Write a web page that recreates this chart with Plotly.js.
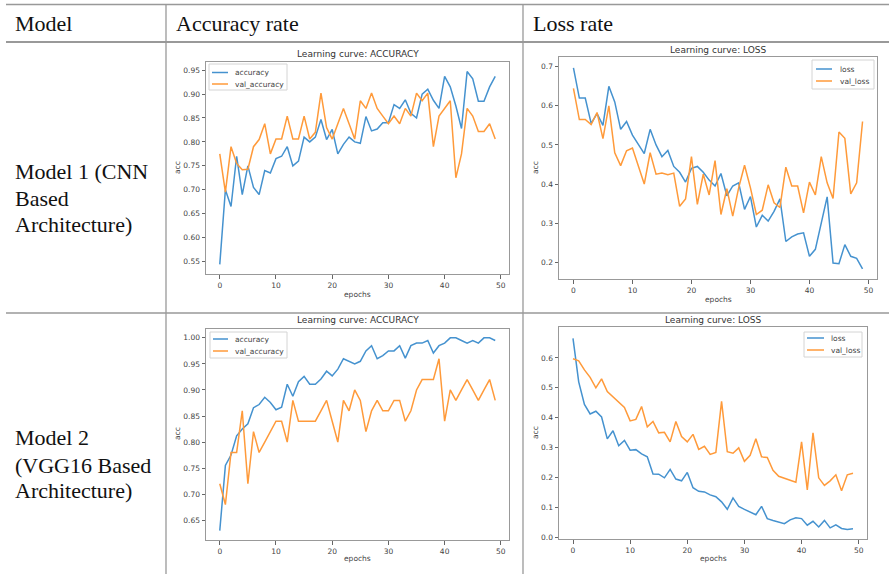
<!DOCTYPE html>
<html>
<head>
<meta charset="utf-8">
<script src="https://cdn.plot.ly/plotly-3.0.1.min.js"></script>
<style>
  html, body { margin: 0; padding: 0; background: #fff; }
  #chart { width: 889px; height: 574px; }
</style>
</head>
<body>
<div id="chart"></div>
<script>
// ---------------- data ----------------
const epochs = [0,1,2,3,4,5,6,7,8,9,10,11,12,13,14,15,16,17,18,19,20,21,22,23,24,25,26,27,28,29,30,31,32,33,34,35,36,37,38,39,40,41,42,43,44,45,46,47,48,49];

const m1Accuracy = [0.544,0.700,0.665,0.770,0.690,0.750,0.705,0.690,0.740,0.735,0.765,0.770,0.790,0.750,0.760,0.810,0.800,0.810,0.847,0.805,0.826,0.775,0.795,0.810,0.800,0.797,0.853,0.823,0.827,0.840,0.840,0.878,0.870,0.888,0.860,0.850,0.900,0.910,0.887,0.870,0.937,0.915,0.875,0.828,0.947,0.932,0.885,0.885,0.915,0.937];
const m1ValAccuracy = [0.775,0.695,0.790,0.755,0.742,0.743,0.790,0.805,0.838,0.775,0.806,0.806,0.854,0.806,0.806,0.854,0.806,0.820,0.902,0.830,0.806,0.838,0.870,0.838,0.806,0.886,0.870,0.902,0.870,0.854,0.838,0.854,0.838,0.870,0.854,0.902,0.886,0.902,0.790,0.854,0.870,0.886,0.725,0.775,0.870,0.854,0.822,0.822,0.838,0.806];

const m1Loss = [0.697,0.620,0.620,0.555,0.580,0.550,0.650,0.610,0.540,0.560,0.525,0.500,0.478,0.540,0.500,0.470,0.486,0.445,0.430,0.405,0.440,0.445,0.430,0.410,0.395,0.427,0.370,0.395,0.403,0.335,0.368,0.290,0.320,0.305,0.330,0.362,0.253,0.265,0.272,0.275,0.215,0.233,0.300,0.367,0.198,0.196,0.245,0.215,0.210,0.183];
const m1ValLoss = [0.645,0.565,0.565,0.552,0.583,0.516,0.600,0.480,0.447,0.485,0.492,0.447,0.400,0.480,0.425,0.428,0.424,0.428,0.343,0.362,0.470,0.348,0.425,0.372,0.460,0.322,0.388,0.318,0.390,0.448,0.390,0.322,0.333,0.398,0.352,0.340,0.443,0.395,0.395,0.326,0.405,0.372,0.470,0.403,0.363,0.533,0.517,0.375,0.403,0.560];

const m2Accuracy = [0.630,0.755,0.775,0.812,0.825,0.835,0.866,0.872,0.886,0.876,0.862,0.867,0.911,0.888,0.916,0.926,0.911,0.911,0.921,0.936,0.927,0.940,0.960,0.955,0.950,0.955,0.975,0.985,0.960,0.966,0.975,0.975,0.985,0.961,0.985,0.990,0.990,0.995,0.971,0.985,0.990,1.000,1.000,0.995,0.990,0.995,0.990,1.000,1.000,0.995];
const m2ValAccuracy = [0.72,0.68,0.78,0.78,0.86,0.72,0.82,0.78,0.80,0.82,0.84,0.84,0.80,0.88,0.84,0.84,0.84,0.84,0.86,0.88,0.84,0.80,0.88,0.86,0.90,0.88,0.82,0.86,0.88,0.86,0.86,0.88,0.88,0.84,0.86,0.90,0.92,0.92,0.92,0.96,0.84,0.90,0.88,0.90,0.92,0.90,0.88,0.90,0.92,0.88];

const m2Loss = [0.665,0.520,0.445,0.413,0.422,0.403,0.330,0.357,0.307,0.325,0.292,0.294,0.280,0.270,0.213,0.212,0.200,0.228,0.196,0.190,0.218,0.167,0.155,0.153,0.143,0.137,0.120,0.095,0.133,0.105,0.095,0.085,0.077,0.105,0.064,0.058,0.052,0.047,0.060,0.067,0.064,0.042,0.055,0.036,0.058,0.033,0.043,0.031,0.028,0.030];
const m2ValLoss = [0.597,0.590,0.560,0.535,0.500,0.530,0.488,0.470,0.450,0.435,0.390,0.395,0.438,0.370,0.388,0.350,0.352,0.320,0.388,0.338,0.320,0.345,0.295,0.305,0.278,0.285,0.455,0.287,0.282,0.300,0.255,0.275,0.330,0.270,0.268,0.225,0.205,0.198,0.190,0.185,0.320,0.160,0.350,0.200,0.175,0.190,0.210,0.157,0.210,0.215];

const headerLabels = ["Model", "Accuracy rate", "Loss rate"];
const model1Label = ["Model 1 (CNN", "Based", "Architecture)"];
const model2Label = ["Model 2", "(VGG16 Based", "Architecture)"];
const accTitle = "Learning curve: ACCURACY";
const lossTitle = "Learning curve: LOSS";
const accNames = ["accuracy", "val_accuracy"];
const lossNames = ["loss", "val_loss"];
const xTicks = [0,10,20,30,40,50];
const accTicks1 = [0.55,0.60,0.65,0.70,0.75,0.80,0.85,0.90,0.95];
const lossTicks1 = [0.2,0.3,0.4,0.5,0.6,0.7];
const accTicks2 = [0.65,0.70,0.75,0.80,0.85,0.90,0.95,1.00];
const lossTicks2 = [0.0,0.1,0.2,0.3,0.4,0.5,0.6];

// ---------------- layout helpers ----------------
const W = 889, H = 574;
const X = px => px / W;
const Y = py => 1 - py / H;
const BLUE = '#4592cf', ORANGE = '#ff9a3a';
const TICKFONT = {family: 'DejaVu Sans, sans-serif', size: 7.5, color: '#444'};
const SERIF = {family: 'Liberation Serif, Times New Roman, serif', size: 22, color: '#111'};
const TITLEFONT = {family: 'DejaVu Sans, sans-serif', size: 9, color: '#333'};
const LABFONT = {family: 'DejaVu Sans, sans-serif', size: 7.5, color: '#444'};

function line(name, x, y, color, xa, ya) {
  return {x: x, y: y, name: name, type: 'scatter', mode: 'lines',
          line: {color: color, width: 1.5}, xaxis: xa, yaxis: ya,
          showlegend: false, hoverinfo: 'skip'};
}

const traces = [
  line(accNames[0], epochs, m1Accuracy, BLUE, 'x', 'y'),
  line(accNames[1], epochs, m1ValAccuracy, ORANGE, 'x', 'y'),
  line(lossNames[0], epochs, m1Loss, BLUE, 'x2', 'y2'),
  line(lossNames[1], epochs, m1ValLoss, ORANGE, 'x2', 'y2'),
  line(accNames[0], epochs, m2Accuracy, BLUE, 'x3', 'y3'),
  line(accNames[1], epochs, m2ValAccuracy, ORANGE, 'x3', 'y3'),
  line(lossNames[0], epochs, m2Loss, BLUE, 'x4', 'y4'),
  line(lossNames[1], epochs, m2ValLoss, ORANGE, 'x4', 'y4')
];

function xax(d, anchor) {
  return {domain: [X(d[0]), X(d[1])], anchor: anchor, range: [-2.45, 51.45],
          tickvals: xTicks, ticks: 'outside', ticklen: 3.5, tickcolor: '#666',
          tickfont: TICKFONT, showline: true, mirror: true, linecolor: '#999', linewidth: 1,
          showgrid: false, zeroline: false, fixedrange: true};
}
function yax(d, anchor, range, ticks, fmt) {
  return {domain: [Y(d[1]), Y(d[0])], anchor: anchor, range: range,
          tickvals: ticks, tickformat: fmt, ticks: 'outside', ticklen: 3.5, tickcolor: '#666',
          tickfont: TICKFONT, showline: true, mirror: true, linecolor: '#999', linewidth: 1,
          showgrid: false, zeroline: false, fixedrange: true};
}

const annotations = [];
function txt(text, xpx, ypx, font, xanchor, extra) {
  annotations.push(Object.assign({text: text, x: X(xpx), y: Y(ypx), xref: 'paper', yref: 'paper',
    xanchor: xanchor || 'center', yanchor: 'middle', showarrow: false, font: font}, extra || {}));
}

// table rules
const RULE = '#999';
const shapes = [];
function hline(ypx, w) { shapes.push({type: 'line', xref: 'paper', yref: 'paper', x0: X(6), x1: 1, y0: Y(ypx), y1: Y(ypx), line: {color: RULE, width: w}}); }
function vline(xpx) { shapes.push({type: 'line', xref: 'paper', yref: 'paper', x0: X(xpx), x1: X(xpx), y0: Y(4), y1: 0, line: {color: RULE, width: 1.3}}); }
hline(4.5, 1.3); hline(42, 2); hline(313, 1.5); vline(166); vline(523);

// matplotlib-style legend boxes (box, handle lines, labels)
function legendBox(x0, y0, x1, y1, lineX0, lineX1, textX, rowYs, names) {
  shapes.push({type: 'rect', xref: 'paper', yref: 'paper', x0: X(x0), x1: X(x1), y0: Y(y1), y1: Y(y0),
               fillcolor: 'rgba(255,255,255,0.85)', line: {color: '#d4d4d4', width: 1}});
  [BLUE, ORANGE].forEach((c, i) => {
    shapes.push({type: 'line', xref: 'paper', yref: 'paper', x0: X(lineX0), x1: X(lineX1),
                 y0: Y(rowYs[i]), y1: Y(rowYs[i]), line: {color: c, width: 1.5}});
    txt(names[i], textX, rowYs[i], LABFONT, 'left');
  });
}
legendBox(209, 64, 287, 90, 212, 228, 233, [72.5, 84], accNames);
legendBox(812, 60, 874, 89, 816, 832, 838, [69, 81], lossNames);
legendBox(210, 332, 287, 358, 213, 228, 233, [339, 351], accNames);
legendBox(804, 332, 862, 357, 807, 824, 829, [338, 350], lossNames);

// table header
txt(headerLabels[0], 13, 23, SERIF, 'left');
txt(headerLabels[1], 174, 23, SERIF, 'left');
txt(headerLabels[2], 531, 23, SERIF, 'left');
// row labels
[171, 198, 224].forEach((yy, i) => txt(model1Label[i], 13, yy, SERIF, 'left'));
[438, 465, 490].forEach((yy, i) => txt(model2Label[i], 13, yy, SERIF, 'left'));
// subplot titles
txt(accTitle, 357.5, 54, TITLEFONT);
txt(lossTitle, 718, 50, TITLEFONT);
txt(accTitle, 357.5, 320, TITLEFONT);
txt(lossTitle, 713, 320, TITLEFONT);
// axis labels
txt('epochs', 357.5, 294, LABFONT);
txt('epochs', 718, 299, LABFONT);
txt('epochs', 357.5, 558, LABFONT);
txt('epochs', 713, 558, LABFONT);
txt('acc', 177, 168, LABFONT, 'center', {textangle: -90});
txt('acc', 535, 168, LABFONT, 'center', {textangle: -90});
txt('acc', 177, 434, LABFONT, 'center', {textangle: -90});
txt('acc', 535, 433, LABFONT, 'center', {textangle: -90});

const layout = {
  width: W, height: H, margin: {l: 0, r: 0, t: 0, b: 0},
  paper_bgcolor: '#fff', plot_bgcolor: '#fff', showlegend: false,
  xaxis: xax([206, 509], 'y'),
  yaxis: yax([62, 274], 'x', [0.524, 0.967], accTicks1, '.2f'),
  xaxis2: xax([559, 877], 'y2'),
  yaxis2: yax([57, 279], 'x2', [0.157, 0.725], lossTicks1, '.1f'),
  xaxis3: xax([206, 509], 'y3'),
  yaxis3: yax([329, 540], 'x3', [0.612, 1.017], accTicks2, '.2f'),
  xaxis4: xax([559, 867], 'y4'),
  yaxis4: yax([327, 539], 'x4', [-0.004, 0.703], lossTicks2, '.1f'),
  annotations: annotations,
  shapes: shapes
};

Plotly.newPlot('chart', traces, layout, {staticPlot: true, displayModeBar: false});
</script>
</body>
</html>
